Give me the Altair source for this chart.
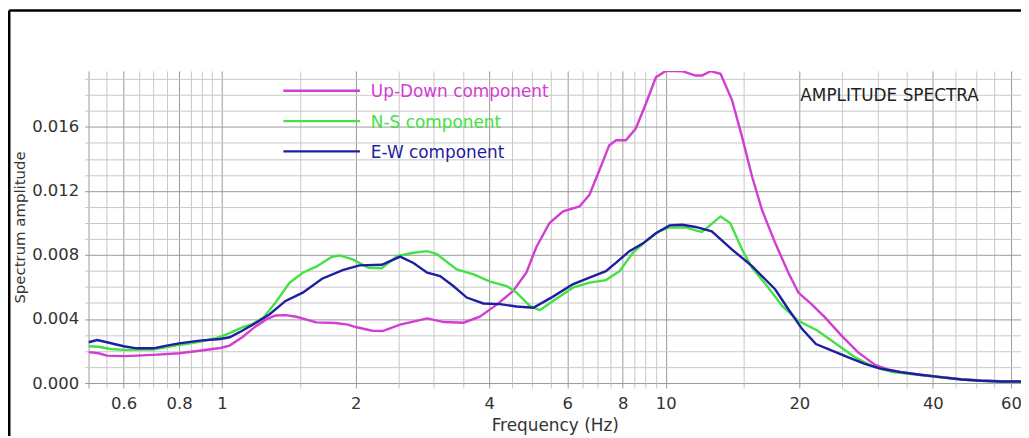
import altair as alt
import pandas as pd

# ---------------- data ----------------
series_names = ["Up-Down component", "N-S component", "E-W component"]
series_colors = ["#d23dd2", "#45e045", "#1e1ea2"]

ud_freq = [0.5, 0.527, 0.55, 0.6, 0.642, 0.7, 0.8, 0.89, 0.99, 1.04, 1.11, 1.19, 1.26, 1.32,
           1.39, 1.47, 1.63, 1.80, 1.92, 2.0, 2.18, 2.3, 2.52, 2.9, 3.16, 3.5, 3.81, 4.16,
           4.53, 4.85, 5.11, 5.47, 5.87, 6.39, 6.73, 7.09, 7.46, 7.73, 8.13, 8.56, 9.02,
           9.5, 10.0, 10.9, 11.67, 12.07, 12.62, 13.29, 14.11, 14.86, 15.65, 16.47, 17.64,
           18.9, 19.9, 21.3, 22.85, 24.9, 27.1, 29.6, 31.7, 33.8, 37.4, 41.6, 46.4, 51.3,
           56.9, 64.0]
ud_amp = [0.00193, 0.00186, 0.00171, 0.00168, 0.00171, 0.00176, 0.00186, 0.00202, 0.00219,
          0.00234, 0.00286, 0.00354, 0.00399, 0.00422, 0.00424, 0.00414, 0.00379, 0.00375,
          0.00365, 0.00350, 0.00327, 0.00325, 0.00365, 0.00404, 0.00381, 0.00377, 0.00415,
          0.00490, 0.00575, 0.00690, 0.00850, 0.01000, 0.01072, 0.01103, 0.01176, 0.01331,
          0.01486, 0.01517, 0.01517, 0.01590, 0.01745, 0.01910, 0.01950, 0.01948, 0.01921,
          0.01921, 0.01948, 0.01932, 0.01766, 0.01538, 0.01290, 0.01083, 0.00876, 0.00689,
          0.00565, 0.00493, 0.00410, 0.00296, 0.00193, 0.00114, 0.00085, 0.00070, 0.00053,
          0.00038, 0.00024, 0.00016, 0.00011, 0.00010]

ns_freq = [0.5, 0.527, 0.56, 0.6, 0.7, 0.8, 0.89, 0.97, 1.04, 1.11, 1.17, 1.24, 1.32, 1.42,
           1.52, 1.63, 1.77, 1.84, 1.97, 2.14, 2.29, 2.48, 2.7, 2.9, 3.05, 3.38, 3.69, 4.02,
           4.38, 4.61, 4.94, 5.2, 5.57, 6.17, 6.73, 7.33, 7.87, 8.43, 9.02, 9.65, 10.2, 11.1,
           11.67, 12.07, 12.5, 13.29, 13.97, 14.86, 15.65, 16.8, 18.3, 19.9, 22.0, 24.5, 26.7,
           29.6, 32.5, 37.4, 41.6, 46.4, 51.3, 56.9, 64.0]
ns_amp = [0.00230, 0.00227, 0.00213, 0.00207, 0.00209, 0.00238, 0.00258, 0.00280, 0.00312,
          0.00348, 0.00368, 0.00410, 0.00503, 0.00627, 0.00689, 0.00727, 0.00789, 0.00797,
          0.00772, 0.00720, 0.00717, 0.00793, 0.00814, 0.00824, 0.00805, 0.00710, 0.00679,
          0.00634, 0.00606, 0.00565, 0.00482, 0.00455, 0.00513, 0.00596, 0.00627, 0.00643,
          0.00699, 0.00814, 0.00886, 0.00948, 0.00972, 0.00972, 0.00954, 0.00944, 0.00979,
          0.01041, 0.01000, 0.00834, 0.00720, 0.00617, 0.00482, 0.00389, 0.00327, 0.00234,
          0.00161, 0.00099, 0.00068, 0.00050, 0.00036, 0.00022, 0.00014, 0.00010, 0.00010]

ew_freq = [0.5, 0.523, 0.55, 0.6, 0.642, 0.7, 0.75, 0.8, 0.89, 0.99, 1.04, 1.11, 1.19, 1.28,
           1.39, 1.52, 1.68, 1.87, 2.04, 2.29, 2.52, 2.7, 2.9, 3.1, 3.32, 3.56, 3.88, 4.23,
           4.61, 5.03, 5.57, 6.17, 6.73, 7.33, 7.73, 8.28, 8.87, 9.5, 10.2, 10.9, 11.67, 12.7,
           14.11, 15.65, 17.64, 18.9, 20.3, 21.8, 23.7, 25.8, 28.1, 30.6, 33.8, 37.4, 41.6,
           46.4, 51.3, 56.9, 64.0]
ew_amp = [0.00255, 0.00269, 0.00255, 0.00230, 0.00217, 0.00217, 0.00234, 0.00248, 0.00265,
          0.00275, 0.00286, 0.00327, 0.00375, 0.00430, 0.00513, 0.00565, 0.00652, 0.00706,
          0.00735, 0.00739, 0.00790, 0.00750, 0.00689, 0.00668, 0.00606, 0.00534, 0.00497,
          0.00493, 0.00478, 0.00470, 0.00540, 0.00617, 0.00658, 0.00699, 0.00752, 0.00824,
          0.00871, 0.00936, 0.00985, 0.00989, 0.00975, 0.00948, 0.00834, 0.00730, 0.00586,
          0.00461, 0.00337, 0.00244, 0.00202, 0.00161, 0.00120, 0.00089, 0.00068, 0.00052,
          0.00037, 0.00022, 0.00014, 0.00010, 0.00010]

x_grid = [0.5, 0.55, 0.6, 0.65, 0.7, 0.75, 0.8, 0.85, 0.9, 0.95, 1, 1.5, 2, 2.5, 3, 3.5, 4,
          4.5, 5, 5.5, 6, 6.5, 7, 7.5, 8, 8.5, 9, 9.5, 10, 15, 20, 25, 30, 35, 40, 45, 50,
          55, 60]
x_labels = [0.6, 0.8, 1, 2, 4, 6, 8, 10, 20, 40, 60]
y_grid = [0.000, 0.001, 0.002, 0.003, 0.004, 0.005, 0.006, 0.007, 0.008, 0.009, 0.010,
          0.011, 0.012, 0.013, 0.014, 0.015, 0.016, 0.017, 0.018, 0.019]
annotation = "AMPLITUDE SPECTRA"

# ---------------- table ----------------
rows = []
for name, fr, am in zip(series_names, [ud_freq, ns_freq, ew_freq], [ud_amp, ns_amp, ew_amp]):
    for f, a in zip(fr, am):
        rows.append({"series": name, "freq": f, "amp": a})
df = pd.DataFrame(rows)

FONT = "DejaVu Sans"
TICK_FS = 16.5
TEXT_FS = 17
MAJOR = "#9a9a9a"
MINOR = "#c8c8c8"

lab_list = "[" + ",".join(str(v) for v in x_labels) + "]"
x_major_test = f"indexof({lab_list}, datum.value) >= 0 || datum.value == 0.5"
y_major_test = "round(datum.value * 1000) % 4 == 0"

x_axis = alt.Axis(
    values=x_grid,
    labelExpr=f"indexof({lab_list}, datum.value) >= 0 ? toString(datum.value) : ''",
    title="Frequency (Hz)",
    grid=True,
    gridColor={"condition": {"test": x_major_test, "value": MAJOR}, "value": MINOR},
    gridWidth=1,
    tickColor={"condition": {"test": x_major_test, "value": MAJOR}, "value": MINOR},
    tickSize=5,
    domain=False,
    labelFont=FONT, labelFontSize=TICK_FS, labelColor="#333333", labelPadding=8,
    labelOverlap=False, labelFlush=False, labelBound=False,
    titleFont=FONT, titleFontSize=TEXT_FS, titleFontWeight="normal", titleColor="#333333",
    titlePadding=5,
)
y_axis = alt.Axis(
    values=y_grid,
    format=".3f",
    labelExpr=f"{y_major_test} ? datum.label : ''",
    title="Spectrum amplitude",
    grid=True,
    gridColor={"condition": {"test": y_major_test, "value": MAJOR}, "value": MINOR},
    gridWidth=1,
    tickColor={"condition": {"test": y_major_test, "value": MAJOR}, "value": MINOR},
    tickSize=4,
    domain=False,
    labelFont=FONT, labelFontSize=TICK_FS, labelColor="#333333", labelPadding=6,
    labelOverlap=False, labelFlush=False,
    titleFont=FONT, titleFontSize=15, titleFontWeight="normal", titleColor="#333333",
    titlePadding=4,
)

lines = alt.Chart(df).mark_line(strokeWidth=2.4, clip=True).encode(
    x=alt.X("freq:Q", scale=alt.Scale(type="log", domain=[0.5, 63.2], nice=False), axis=x_axis),
    y=alt.Y("amp:Q", scale=alt.Scale(domain=[0, 0.0195], nice=False, zero=True), axis=y_axis),
    color=alt.Color("series:N", scale=alt.Scale(domain=series_names, range=series_colors),
                    legend=None),
    detail="series:N",
)

layers = [lines]

# custom legend (top-left, inside plot)
for i, (name, col) in enumerate(zip(series_names, series_colors)):
    yy = 20 + 30.5 * i
    ldata = pd.DataFrame({"label": [name]})
    layers.append(
        alt.Chart(ldata).mark_rule(color=col, strokeWidth=2.4).encode(
            x=alt.value(196), x2=alt.value(273), y=alt.value(yy)
        )
    )
    layers.append(
        alt.Chart(ldata).mark_text(align="left", baseline="middle", font=FONT, fontSize=TEXT_FS,
                                   color=col).encode(
            x=alt.value(284), y=alt.value(yy + 1.5), text="label:N"
        )
    )

adata = pd.DataFrame({"label": [annotation]})
layers.append(
    alt.Chart(adata).mark_text(align="left", baseline="middle", font=FONT, fontSize=TEXT_FS,
                               color="#222222").encode(
        x=alt.value(716), y=alt.value(25), text="label:N"
    )
)

# outer frame (top and left edges as in the screenshot)
fdata = pd.DataFrame({"k": [0]})
layers.append(
    alt.Chart(fdata).mark_rule(color="black", strokeWidth=2.5).encode(
        x=alt.value(-79.75), x2=alt.value(960), y=alt.value(-60.75)
    )
)
layers.append(
    alt.Chart(fdata).mark_rule(color="black", strokeWidth=2.5).encode(
        x=alt.value(-79.75), y=alt.value(-60.75), y2=alt.value(420)
    )
)

chart = alt.layer(*layers).properties(
    width=938,
    height=314,
    autosize=alt.AutoSizeParams(type="none"),
    padding={"left": 81, "top": 62, "right": 0, "bottom": 52},
    background="white",
).configure_view(stroke=None)

chart.save("out.html", embed_options={"renderer": "svg", "actions": False})
